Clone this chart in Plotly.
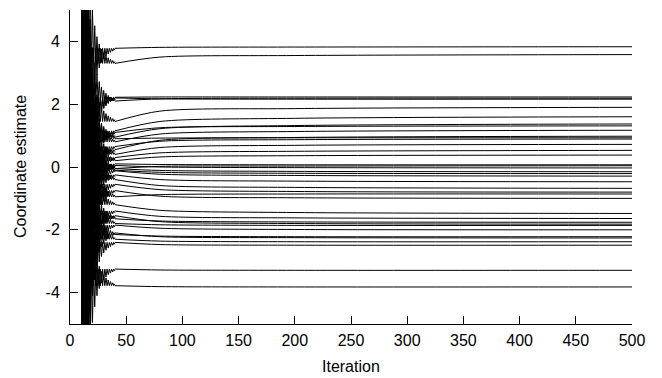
import plotly.graph_objects as go

# ---- data ----
final_vals = [3.83, 3.58, 2.23, 2.19, 2.16, 1.90, 1.60, 1.37, 1.31, 1.17, 0.98, 0.93, 0.89,
              0.72, 0.53, 0.38, 0.07, 0.04, -0.03, -0.15, -0.21, -0.29, -0.47, -0.68, -0.80,
              -0.86, -1.00, -1.48, -1.64, -1.76, -1.82, -1.86, -2.00, -2.22, -2.26, -2.38,
              -2.49, -3.29, -3.82]
start_vals = [3.78, 3.30, 2.22, 2.10, 2.20, 1.45, 1.15, 0.95, 1.10, 0.80, 0.55, 0.90, 0.65,
              0.40, 0.30, 0.20, 0.10, -0.05, 0.05, -0.05, -0.10, -0.12, -0.25, -0.40, -0.55,
              -0.95, -0.75, -1.20, -1.40, -1.65, -1.55, -1.80, -1.85, -2.15, -2.10, -2.30,
              -2.40, -3.25, -3.78]
vals_80 = [3.81, 3.50, 2.23, 2.17, 2.17, 1.78, 1.45, 1.22, 1.25, 1.05, 0.85, 0.92, 0.82,
           0.62, 0.45, 0.32, 0.08, 0.02, 0.00, -0.11, -0.17, -0.23, -0.40, -0.59, -0.72,
           -0.88, -0.93, -1.38, -1.57, -1.72, -1.74, -1.84, -1.95, -2.20, -2.22, -2.36,
           -2.47, -3.28, -3.81]
vals_200 = [3.82, 3.55, 2.23, 2.19, 2.16, 1.86, 1.55, 1.32, 1.29, 1.13, 0.94, 0.93, 0.87,
            0.69, 0.50, 0.36, 0.07, 0.03, -0.02, -0.14, -0.20, -0.27, -0.45, -0.65, -0.78,
            -0.86, -0.98, -1.45, -1.62, -1.75, -1.80, -1.86, -1.99, -2.22, -2.25, -2.38,
            -2.49, -3.29, -3.82]
osc_dir = [-1, 1, -1, 1, -1, 1, -1, 1, -1, 1, -1, 1, -1, 1, -1, 1, -1, 1, -1, 1, -1, 1,
           -1, 1, -1, 1, -1, 1, -1, 1, -1, 1, -1, 1, -1, 1, -1, -1, 1]
osc_iter = list(range(10, 41))
osc_amp = [14, 0, 9, 0, 6, 0, 4, 0, 2.6, 0, 1.7, 0, 1.2, 0, 0.85, 0, 0.62, 0, 0.45, 0,
           0.34, 0, 0.25, 0, 0.18, 0, 0.13, 0, 0.09, 0, 0.06]
key_iter = [40, 80, 200, 500]

x_tickvals = [0, 50, 100, 150, 200, 250, 300, 350, 400, 450, 500]
y_tickvals = [-4, -2, 0, 2, 4]
y_ticktext = ["-4", "-2", "0", "2", "4"]

fig = go.Figure()
for i in range(len(final_vals)):
    osc_y = [start_vals[i] + osc_dir[i] * a for a in osc_amp]
    fig.add_trace(go.Scatter(x=osc_iter, y=osc_y, mode="lines",
                             line=dict(color="black", width=1), hoverinfo="skip"))
    fig.add_trace(go.Scatter(x=key_iter,
                             y=[start_vals[i], vals_80[i], vals_200[i], final_vals[i]],
                             mode="lines",
                             line=dict(color="black", width=1, shape="spline", smoothing=0.8),
                             hoverinfo="skip"))

font_main = "Liberation Sans, Arial, sans-serif"
fig.update_layout(
    width=654, height=370,
    margin=dict(l=62, r=30, t=1.5, b=54),
    paper_bgcolor="white", plot_bgcolor="white",
    showlegend=False,
    font=dict(family=font_main, size=16, color="black"),
)
fig.update_xaxes(range=[0, 500], tickvals=x_tickvals, ticks="inside", ticklen=8,
                 tickcolor="black", showline=True, linecolor="black", linewidth=1,
                 showgrid=False, zeroline=False, automargin=False, ticklabelstandoff=2)
fig.update_yaxes(range=[-5, 5], tickvals=y_tickvals, ticktext=y_ticktext, ticks="inside",
                 ticklen=8, tickcolor="black", showline=True, linecolor="black", linewidth=1,
                 showgrid=False, zeroline=False, automargin=False, ticklabelstandoff=6)
fig.add_annotation(text="Coordinate estimate", xref="paper", yref="paper", x=0, y=0.5,
                   xshift=-50, textangle=-90, showarrow=False, xanchor="center",
                   yanchor="middle", font=dict(size=16))
fig.add_annotation(text="Iteration", xref="paper", yref="paper", x=0.5, y=0,
                   yshift=-42, showarrow=False, xanchor="center", yanchor="middle",
                   font=dict(size=16))

fig.write_html("out.html")
